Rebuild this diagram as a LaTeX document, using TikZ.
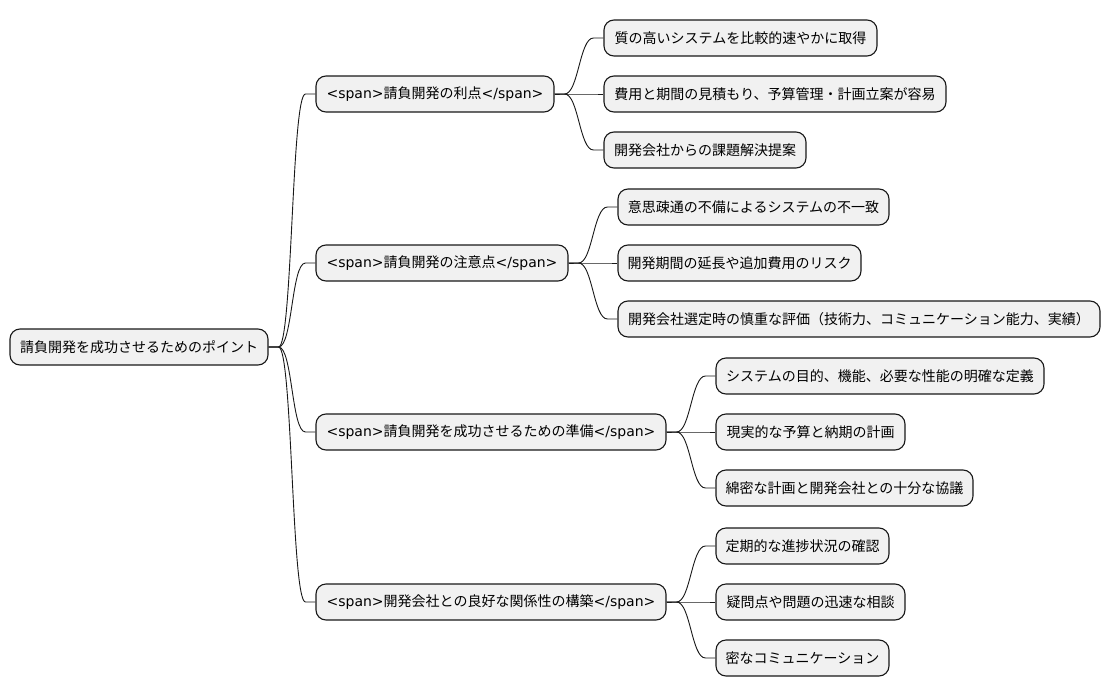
\documentclass[tikz,border=0pt]{standalone}
\usepackage{fontspec}
\setmainfont{DejaVu Sans}
\newfontfamily\jp{Noto Sans CJK JP}
\usetikzlibrary{calc}
\definecolor{boxfill}{HTML}{F1F1F1}
\definecolor{boxline}{HTML}{181818}
\tikzset{
  mm/.style={draw=boxline, fill=boxfill, line width=1.1pt, rounded corners=10pt,
    minimum height=36pt, inner sep=0pt, font=\fontsize{14pt}{16pt}\selectfont, text=black},
  link/.style={draw=boxline, line width=0.9pt}
}
\newcommand\mmedge[2]{%
  \draw[link] (#1.east) -- ($(#1.east)+(10,0)$)
    .. controls ($(#1.east)+(24,0)$) and ($(#2.west)+(-24,0)$) ..
    ($(#2.west)+(-10,0)$) -- (#2.west);}
\begin{document}
\begin{tikzpicture}[x=1pt,y=-1pt]
\useasboundingbox (0,0) rectangle (1111,696);
\node[mm, minimum width=258pt] (r) at (139,347) {\jp 請負開発を成功させるためのポイント};
\node[mm, minimum width=238pt] (a) at (435,94) {<span>{\jp 請負開発の利点}</span>};
\node[mm, minimum width=273pt] (a1) at (740.5,38) {\jp 質の高いシステムを比較的速やかに取得};
\node[mm, minimum width=342pt] (a2) at (775,94) {\jp 費用と期間の見積もり、予算管理・計画立案が容易};
\node[mm, minimum width=202pt] (a3) at (705,150) {\jp 開発会社からの課題解決提案};
\node[mm, minimum width=252pt] (b) at (442,263) {<span>{\jp 請負開発の注意点}</span>};
\node[mm, minimum width=271pt] (b1) at (753.5,207) {\jp 意思疎通の不備によるシステムの不一致};
\node[mm, minimum width=243pt] (b2) at (739.5,263) {\jp 開発期間の延長や追加費用のリスク};
\node[mm, minimum width=482pt] (b3) at (859,319) {\jp 開発会社選定時の慎重な評価（技術力、コミュニケーション能力、実績）};
\node[mm, minimum width=350pt] (c) at (491,432) {<span>{\jp 請負開発を成功させるための準備}</span>};
\node[mm, minimum width=328pt] (c1) at (880,376) {\jp システムの目的、機能、必要な性能の明確な定義};
\node[mm, minimum width=189pt] (c2) at (810.5,432) {\jp 現実的な予算と納期の計画};
\node[mm, minimum width=257pt] (c3) at (844.5,488) {\jp 綿密な計画と開発会社との十分な協議};
\node[mm, minimum width=350pt] (d) at (491,602) {<span>{\jp 開発会社との良好な関係性の構築}</span>};
\node[mm, minimum width=173pt] (d1) at (802.5,546) {\jp 定期的な進捗状況の確認};
\node[mm, minimum width=189pt] (d2) at (810.5,602) {\jp 疑問点や問題の迅速な相談};
\node[mm, minimum width=173pt] (d3) at (802.5,658) {\jp 密なコミュニケーション};
\mmedge{r}{a}\mmedge{r}{b}\mmedge{r}{c}\mmedge{r}{d}
\mmedge{a}{a1}\mmedge{a}{a2}\mmedge{a}{a3}
\mmedge{b}{b1}\mmedge{b}{b2}\mmedge{b}{b3}
\mmedge{c}{c1}\mmedge{c}{c2}\mmedge{c}{c3}
\mmedge{d}{d1}\mmedge{d}{d2}\mmedge{d}{d3}
\end{tikzpicture}
\end{document}
